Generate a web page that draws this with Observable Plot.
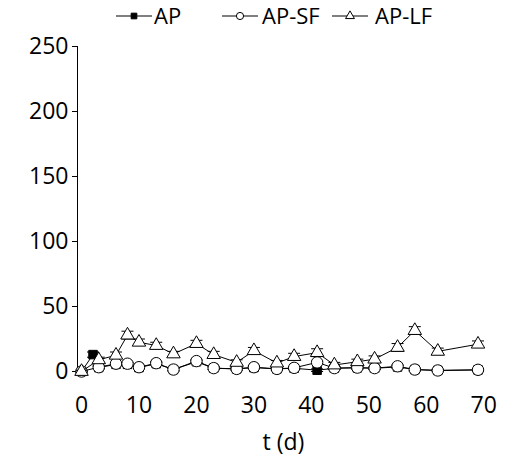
<!DOCTYPE html>
<html>
<head>
<meta charset="utf-8">
<script src="https://cdn.jsdelivr.net/npm/d3@7"></script>
<script src="https://cdn.jsdelivr.net/npm/@observablehq/plot@0.6"></script>
<style>
  html, body { margin: 0; padding: 0; background: white; }
  #wrap { position: relative; width: 514px; height: 466px; font-family: "Open Sans", sans-serif; }
  #legend { position: absolute; left: 0; top: 0; }
</style>
</head>
<body>
<div id="wrap"><div id="chart"></div><div id="legend"></div></div>
<script>
// ---- data ----
const seriesNames = ["AP", "AP-SF", "AP-LF"];

const tAP  = [0, 2, 3, 6, 8, 10, 13, 16, 20, 23, 27, 30, 34, 37, 41, 44, 48, 51, 55, 58, 62, 69];
const yAP  = [0, 13, 3, 5.5, 5.5, 3, 6, 1.5, 7.5, 2.5, 2, 3, 2, 2.5, 1, 2.5, 2.8, 2.5, 3.5, 1.5, 0.8, 1.2];
const eAP  = [0, 2, 1, 1, 1, 1, 1, 1, 1, 1, 1, 1, 1, 1, 1, 1, 1, 1, 1, 1, 0.5, 0.5];

const tSF  = [0, 3, 6, 8, 10, 13, 16, 20, 23, 27, 30, 34, 37, 41, 44, 48, 51, 55, 58, 62, 69];
const ySF  = [0, 3.3, 6, 6, 3.3, 6.4, 1.5, 8, 2.6, 2, 3.3, 2, 2.8, 7, 2.6, 3, 2.6, 4, 1.5, 0.8, 1.3];
const eSF  = [0, 1, 1, 1, 1, 1, 1, 1, 1, 1, 1, 1, 1, 1, 1, 1, 1, 1, 1, 1, 1];

const tLF  = [0, 3, 6, 8, 10, 13, 16, 20, 23, 27, 30, 34, 37, 41, 44, 48, 51, 55, 58, 62, 69];
const yLF  = [0, 9, 12.5, 28, 22.5, 20, 13.5, 21.5, 13, 7, 16, 6.5, 11.5, 14.5, 5, 7.5, 9.5, 18.5, 31.5, 15.5, 21];
const eLF  = [1, 2, 2.5, 3, 2.5, 2.5, 2, 2.5, 2.5, 2, 2.5, 2, 2.5, 3, 2, 2, 2.5, 3, 3, 2.5, 2.5];

const xTicks = [0, 10, 20, 30, 40, 50, 60, 70];
const yTicks = [0, 50, 100, 150, 200, 250];
const xDomain = [-0.7, 71];
const yDomain = [0, 250];
const xTitle = "t (d)";

// ---- build ----
const mk = (ts, ys, es) => ts.map((t, i) => ({t, y: ys[i], e: es[i]}));
const AP = mk(tAP, yAP, eAP), SF = mk(tSF, ySF, eSF), LF = mk(tLF, yLF, eLF);

const cap = {draw(ctx) { ctx.moveTo(-6, 0); ctx.lineTo(6, 0); }};
const FS = 23;

function errMarks(data) {
  return [
    Plot.ruleX(data, {x: "t", y1: d => d.y - d.e, y2: d => d.y + d.e, stroke: "black", strokeWidth: 1}),
    Plot.dot(data, {x: "t", y: d => d.y + d.e, symbol: cap, stroke: "black", strokeWidth: 1, fill: "none"}),
    Plot.dot(data, {x: "t", y: d => d.y - d.e, symbol: cap, stroke: "black", strokeWidth: 1, fill: "none"})
  ];
}

const chart = Plot.plot({
  width: 514,
  height: 466,
  marginTop: 46,
  marginBottom: 95,
  marginLeft: 77,
  marginRight: 25,
  style: {fontFamily: "Open Sans", fontSize: FS + "px", color: "black", background: "white", overflow: "visible"},
  x: {domain: xDomain},
  y: {domain: yDomain},
  marks: [
    Plot.ruleX([xDomain[0]], {y1: yDomain[0], y2: yDomain[1], stroke: "black", strokeWidth: 1}),
    Plot.axisY({ticks: yTicks, tickSize: 5, tickPadding: 4, label: null, fontSize: FS, stroke: "black"}),
    Plot.axisX({ticks: xTicks, tickSize: 0, tickPadding: 25, label: null, fontSize: FS}),
    Plot.text([xTitle], {frameAnchor: "bottom", dy: 71, lineAnchor: "middle", fontSize: FS, fill: "black"}),
    ...errMarks(AP),
    Plot.line(AP, {x: "t", y: "y", stroke: "black", strokeWidth: 1}),
    Plot.dot(AP, {x: "t", y: "y", symbol: "square", r: 4.8, fill: "black", stroke: "black", strokeWidth: 1}),
    ...errMarks(SF),
    Plot.line(SF, {x: "t", y: "y", stroke: "black", strokeWidth: 1}),
    Plot.dot(SF, {x: "t", y: "y", symbol: "circle", r: 5.7, fill: "white", stroke: "black", strokeWidth: 1}),
    ...errMarks(LF),
    Plot.line(LF, {x: "t", y: "y", stroke: "black", strokeWidth: 1}),
    Plot.dot(LF, {x: "t", y: "y", symbol: "triangle", r: 5, fill: "white", stroke: "black", strokeWidth: 1})
  ]
});
document.getElementById("chart").appendChild(chart);

// ---- legend ----
const LY = 16;
const items = [
  {name: seriesNames[0], sym: "square", fill: "black", cx: 134, tx: 154, r: 3.2},
  {name: seriesNames[1], sym: "circle", fill: "white", cx: 240, tx: 262, r: 3.6},
  {name: seriesNames[2], sym: "triangle", fill: "white", cx: 350, tx: 375, r: 3.3}
];
const symMap = {square: d3.symbolSquare, circle: d3.symbolCircle, triangle: d3.symbolTriangle};
const ls = d3.create("svg").attr("width", 514).attr("height", 36)
  .style("font-family", "Open Sans").style("font-size", "22px").style("overflow", "visible");
for (const it of items) {
  const g = ls.append("g");
  g.append("line").attr("x1", it.cx - 18).attr("x2", it.cx + 18).attr("y1", LY).attr("y2", LY)
    .attr("stroke", "black").attr("stroke-width", 1);
  g.append("path").attr("d", d3.symbol(symMap[it.sym], Math.PI * it.r * it.r)())
    .attr("transform", `translate(${it.cx},${LY})`).attr("fill", it.fill).attr("stroke", "black");
  g.append("text").attr("x", it.tx).attr("y", LY + 8).text(it.name);
}
document.getElementById("legend").appendChild(ls.node());
</script>
</body>
</html>
